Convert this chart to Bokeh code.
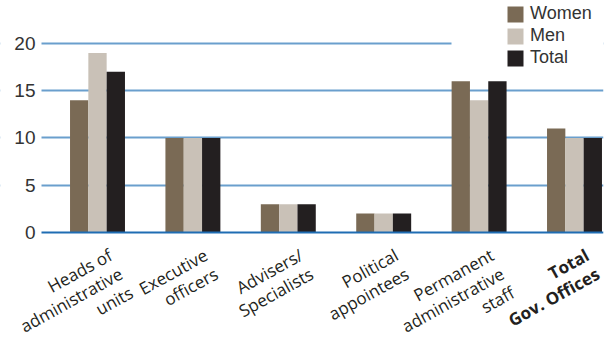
import math
from bokeh.plotting import figure
from bokeh.models import ColumnDataSource, FixedTicker, BoxAnnotation, Legend, LegendItem
from bokeh.core.properties import value
from bokeh.transform import dodge
from bokeh.embed import file_html
from bokeh.resources import INLINE

categories = ["Heads of\nadministrative\nunits", "Executive\nofficers", "Advisers/\nSpecialists",
              "Political\nappointees", "Permanent\nadministrative\nstaff", "Total\nGov. Offices"]
label_styles = ["normal", "normal", "normal", "normal", "normal", "bold"]
women = [14, 10, 3, 2, 16, 11]
men = [19, 10, 3, 2, 14, 10]
total = [17, 10, 3, 2, 16, 10]
y_ticks = [0, 5, 10, 15, 20]
series_names = ["Women", "Men", "Total"]
colors = ["#7a6a55", "#c9c1b7", "#231f20"]

idx = list(range(len(categories)))
bw = 0.192

# frame covers the whole page width except a small right margin
PX_X = 95.4                 # pixels per category
X0 = -97 / PX_X
X1 = X0 + 603 / PX_X
Y0, Y1 = -11.22, 24.55
PX_Y = 338 / (Y1 - Y0)      # pixels per y unit
GRID_LEFT = X0 + 41 / PX_X

p = figure(width=612, height=338, output_backend="svg", toolbar_location=None,
           x_range=(X0, X1), y_range=(Y0, Y1),
           x_axis_location=None, y_axis_location=None,
           min_border_left=0, min_border_right=9,
           min_border_top=0, min_border_bottom=0)
p.outline_line_color = None
p.background_fill_color = "white"
p.border_fill_color = "white"

p.xgrid.visible = False
p.ygrid.ticker = FixedTicker(ticks=y_ticks[1:])
p.ygrid.grid_line_color = "#6a9fcd"
p.ygrid.grid_line_width = 2

# grid lines start right of the tick labels, and the top one stops before the legend
p.add_layout(BoxAnnotation(right=GRID_LEFT, fill_color="white", fill_alpha=1.0,
                           line_color=None, level="underlay"))
p.add_layout(BoxAnnotation(left=X0 + 451 / PX_X, bottom=y_ticks[-1] - 0.5, top=y_ticks[-1] + 0.5,
                           fill_color="white", fill_alpha=1.0, line_color=None, level="underlay"))

# y tick labels
p.text(x=[X0 + 35 / PX_X] * len(y_ticks), y=y_ticks, text=[str(t) for t in y_ticks],
       text_align="right", text_baseline="middle",
       text_font=value("Liberation Sans"), text_font_size="19px", text_color="#333333")

src = ColumnDataSource(dict(x=idx, women=women, men=men, total=total))
renderers = []
for off, col, c in zip([-bw, 0, bw], ["women", "men", "total"], colors):
    r = p.vbar(x=dodge("x", off), top=col, width=bw, bottom=0, source=src,
               fill_color=c, line_color=None)
    renderers.append(r)

# baseline (zero line), darker blue
p.segment(x0=[GRID_LEFT], y0=[y_ticks[0]], x1=[X1], y1=[y_ticks[0]],
          line_color="#1f6db3", line_width=2)

# rotated, right-justified multi-line category labels (one text per line)
ANG = 29
LH = 21.5           # line spacing in px
DX0, DY0 = 13.0, 21.0   # first baseline's right end, px right of / below the tick at 0
sa, ca = math.sin(math.radians(ANG)), math.cos(math.radians(ANG))
lx, ly, lt, ls = [], [], [], []
for i, (cat, st) in enumerate(zip(categories, label_styles)):
    for k, line in enumerate(cat.split("\n")):
        lx.append(i + (DX0 + k * LH * sa) / PX_X)
        ly.append(-(DY0 + k * LH * ca) / PX_Y)
        lt.append(line)
        ls.append(st)
lab_src = ColumnDataSource(dict(x=lx, y=ly, text=lt, style=ls))
p.text(x="x", y="y", text="text", source=lab_src,
       angle=ANG, angle_units="deg", text_align="right", text_baseline="alphabetic",
       text_font=value("Open Sans"), text_font_size="17px", text_color="#231f20",
       text_font_style="style")

legend = Legend(items=[LegendItem(label=n, renderers=[r]) for n, r in zip(series_names, renderers)],
                location=(505, 270), orientation="vertical",
                glyph_width=20, glyph_height=20, label_height=20, spacing=1,
                padding=0, margin=0, label_standoff=5,
                border_line_color=None, background_fill_alpha=0,
                label_text_font="Liberation Sans", label_text_font_size="18px",
                label_text_color="#333333")
p.add_layout(legend)

open("out.html", "w").write(file_html(p, INLINE))
